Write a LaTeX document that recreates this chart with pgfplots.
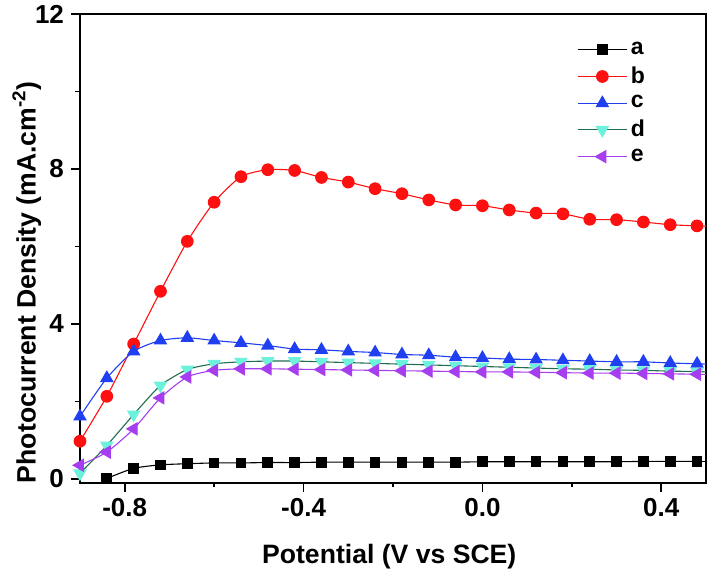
\documentclass[border=0pt]{standalone}
\usepackage{fontspec}
\setmainfont{Liberation Sans}
\usepackage{pgfplots}
\pgfplotsset{compat=1.18}
\definecolor{cA}{HTML}{000000}
\definecolor{cB}{HTML}{FF1010}
\definecolor{cC}{HTML}{1F3FF0}
\definecolor{cDline}{HTML}{1E6E50}
\definecolor{cDmark}{HTML}{6CF2DC}
\definecolor{cE}{HTML}{A63EF0}

\begin{document}
\begin{tikzpicture}
\path[use as bounding box] (-40pt,-47pt) rectangle (314.5pt,241.35pt);
\begin{axis}[
  scale only axis, width=313pt, height=234.35pt,
  xmin=-0.9, xmax=0.5, ymin=-0.1, ymax=12,
  xtick={-0.8,-0.4,0,0.4}, minor xtick={-0.6,-0.2,0.2},
  ytick={0,4,8,12}, minor ytick={2,6,10},
  xtick pos=bottom, ytick pos=left, tick align=outside,
  major tick length=4.5pt, minor tick length=2.4pt,
  every tick/.style={black, line width=0.8pt},
  axis line style={line width=1pt},
  tick label style={font=\bfseries\fontsize{13}{15}\selectfont},
  /pgf/number format/assume math mode=true,
  xticklabel style={/pgf/number format/.cd, fixed, fixed zerofill, precision=1},
  label style={font=\bfseries\fontsize{13.3}{16}\selectfont},
  xlabel={Potential (V vs SCE)},
  ylabel={Photocurrent Density (mA.cm\textsuperscript{-2})},
  xlabel style={at={(axis description cs:0.494,-0.158)}, anchor=center},
  ylabel style={at={(axis description cs:-0.085,0.428)}, anchor=center, rotate=0},
  legend style={at={(axis description cs:0.785,0.958)}, anchor=north west, draw=none, fill=none,
    font=\bfseries\fontsize{11.5}{13}\selectfont, row sep=0.6pt},
  legend cell align=left,
  legend image code/.code={\draw[mark repeat=2,mark phase=2] plot coordinates {(0pt,0pt)(12pt,0pt)(24pt,0pt)};},
  every axis plot/.append style={line width=0.55pt, smooth, tension=0.4},
]
\addplot[color=cA, mark=square*, mark size=2.4pt, mark options={fill=cA}] coordinates {
(-0.84,0.01) (-0.78,0.27) (-0.72,0.36) (-0.66,0.39) (-0.60,0.41) (-0.54,0.41) (-0.48,0.42) (-0.42,0.42)
(-0.36,0.43) (-0.30,0.43) (-0.24,0.43) (-0.18,0.43) (-0.12,0.43) (-0.06,0.43) (0,0.44) (0.06,0.44)
(0.12,0.44) (0.18,0.44) (0.24,0.44) (0.30,0.44) (0.36,0.45) (0.42,0.45) (0.48,0.45)};
\addplot[color=cB, mark=*, mark size=2.9pt, mark options={fill=cB}] coordinates {
(-0.90,0.97) (-0.84,2.13) (-0.78,3.48) (-0.72,4.84) (-0.66,6.13) (-0.60,7.14) (-0.54,7.80) (-0.48,7.98)
(-0.42,7.96) (-0.36,7.78) (-0.30,7.66) (-0.24,7.49) (-0.18,7.36) (-0.12,7.20) (-0.06,7.07) (0,7.05)
(0.06,6.94) (0.12,6.86) (0.18,6.84) (0.24,6.70) (0.30,6.69) (0.36,6.63) (0.42,6.56) (0.48,6.53)};
\addplot[color=cC, mark=triangle*, mark size=3.4pt, mark options={fill=cC}] coordinates {
(-0.90,1.61) (-0.84,2.60) (-0.78,3.29) (-0.72,3.57) (-0.66,3.64) (-0.60,3.57) (-0.54,3.51) (-0.48,3.44)
(-0.42,3.35) (-0.36,3.33) (-0.30,3.29) (-0.24,3.26) (-0.18,3.21) (-0.12,3.19) (-0.06,3.14) (0,3.12)
(0.06,3.09) (0.12,3.08) (0.18,3.06) (0.24,3.04) (0.30,3.02) (0.36,3.02) (0.42,2.99) (0.48,2.97)};
\addplot[color=cDline, mark=triangle*, mark size=3.4pt, mark options={rotate=180, fill=cDmark, draw=cDmark}] coordinates {
(-0.90,0.14) (-0.84,0.86) (-0.78,1.66) (-0.72,2.41) (-0.66,2.82) (-0.60,2.97) (-0.54,3.02) (-0.48,3.04)
(-0.42,3.04) (-0.36,3.02) (-0.30,3.00) (-0.24,2.98) (-0.18,2.96) (-0.12,2.94) (-0.06,2.92) (0,2.90)
(0.06,2.88) (0.12,2.86) (0.18,2.84) (0.24,2.83) (0.30,2.81) (0.36,2.80) (0.42,2.78) (0.48,2.77)};
\addplot[color=cE, mark=triangle*, mark size=3.4pt, mark options={rotate=90, fill=cE}] coordinates {
(-0.90,0.35) (-0.84,0.69) (-0.78,1.29) (-0.72,2.09) (-0.66,2.63) (-0.60,2.80) (-0.54,2.84) (-0.48,2.84)
(-0.42,2.83) (-0.36,2.82) (-0.30,2.81) (-0.24,2.80) (-0.18,2.79) (-0.12,2.78) (-0.06,2.77) (0,2.76)
(0.06,2.76) (0.12,2.75) (0.18,2.74) (0.24,2.73) (0.30,2.73) (0.36,2.72) (0.42,2.71) (0.48,2.70)};
\addplot[forget plot, color=cA] coordinates {(0.48,0.45) (0.5,0.45)};
\addplot[forget plot, color=cB] coordinates {(0.48,6.53) (0.5,6.52)};
\addplot[forget plot, color=cC] coordinates {(0.48,2.97) (0.5,2.96)};
\addplot[forget plot, color=cDline] coordinates {(0.48,2.77) (0.5,2.76)};
\addplot[forget plot, color=cE] coordinates {(0.48,2.70) (0.5,2.70)};
\legend{a, b, c, d, e}
\end{axis}
\end{tikzpicture}
\end{document}
